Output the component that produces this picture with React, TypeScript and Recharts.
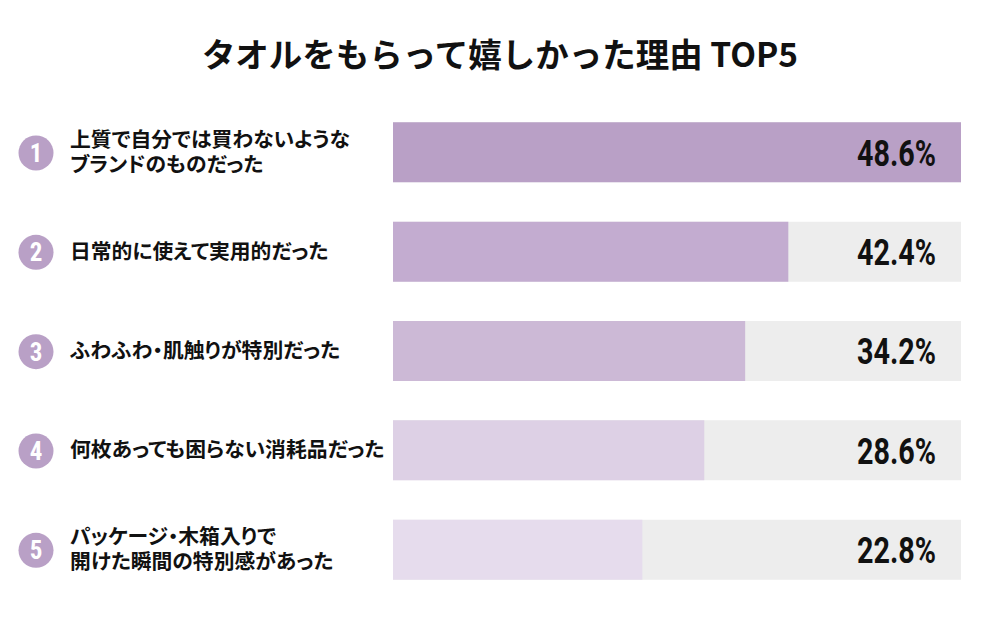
import React from "react";
import { BarChart, Bar, XAxis, YAxis, Cell, LabelList } from "recharts";

const title = "タオルをもらって嬉しかった理由 TOP5";
const ranks = ["1", "2", "3", "4", "5"];
const categories = [
  "上質で自分では買わないような\nブランドのものだった",
  "日常的に使えて実用的だった",
  "ふわふわ・肌触りが特別だった",
  "何枚あっても困らない消耗品だった",
  "パッケージ・木箱入りで\n開けた瞬間の特別感があった",
];
const percentLabels = [48.6, 42.4, 34.2, 28.6, 22.8];
// visual bar length (share of the grey track, 0-100)
const barLengths = [100, 69.6, 62.0, 54.8, 43.9];

const barColors = ["#b9a0c6", "#c3acd0", "#ccb9d6", "#ddd0e5", "#e6dced"];

const data = categories.map((c, i) => ({
  name: c,
  rank: ranks[i],
  value: barLengths[i],
  label: percentLabels[i],
}));

const CategoryTick = (props: any) => {
  const { y, payload, index } = props;
  const lines = String(payload.value).split("\n");
  const lh = 25;
  const start = y - ((lines.length - 1) * lh) / 2;
  return (
    <g>
      <circle cx={36} cy={y + 1} r={17.5} fill="#b9a0c6" />
      <text
        x={36}
        y={y + 10}
        textAnchor="middle"
        fill="#ffffff"
        fontFamily="'Roboto Condensed', Roboto, 'Noto Sans', sans-serif"
        fontWeight={700}
        fontSize={25}
      >
        {ranks[index]}
      </text>
      <text
        x={70}
        y={start + 7.5}
        fill="#111111"
        fontFamily="'Noto Sans CJK JP', sans-serif"
        fontWeight={700}
        fontSize={20.8}
        style={{ fontFeatureSettings: '"palt"' }}
      >
        {lines.map((ln, i) => (
          <tspan key={i} x={70} dy={i === 0 ? 0 : lh}>
            {ln}
          </tspan>
        ))}
      </text>
    </g>
  );
};

const ValueLabel = (props: any) => {
  const { y, height, index } = props;
  const cy = y + height / 2;
  const txt = `${percentLabels[index].toFixed(1)}%`;
  return (
    <text
      x={936}
      y={cy + 13.5}
      textAnchor="end"
      fill="#111111"
      fontFamily="Roboto, 'Noto Sans', sans-serif"
      fontWeight={700}
      fontSize={37}
      textLength={79}
      lengthAdjust="spacingAndGlyphs"
    >
      {txt}
    </text>
  );
};

export default function App() {
  return (
    <div
      style={{
        position: "absolute",
        left: 0,
        top: 0,
        width: 1000,
        height: 618,
        background: "#ffffff",
      }}
    >
      <svg
        width={1000}
        height={100}
        style={{ position: "absolute", left: 0, top: 0 }}
      >
        <text
          x={500}
          y={67}
          textAnchor="middle"
          fill="#111111"
          fontFamily="'Noto Sans CJK JP', sans-serif"
          fontWeight={700}
          fontSize={33.5}
        >
          {title}
        </text>
      </svg>
      <div style={{ position: "absolute", left: 0, top: 0 }}>
        <BarChart
          width={1000}
          height={618}
          data={data}
          layout="vertical"
          margin={{ top: 102.3, right: 39, bottom: 19, left: 0 }}
          barCategoryGap={0}
        >
          <XAxis type="number" domain={[0, 100]} hide />
          <YAxis
            type="category"
            dataKey="name"
            width={393}
            axisLine={false}
            tickLine={false}
            tick={<CategoryTick />}
            interval={0}
          />
          <Bar
            dataKey="value"
            barSize={60}
            isAnimationActive={false}
            background={{ fill: "#ededed" }}
          >
            {data.map((d, i) => (
              <Cell key={i} fill={barColors[i]} />
            ))}
            <LabelList dataKey="label" content={<ValueLabel />} />
          </Bar>
        </BarChart>
      </div>
    </div>
  );
}
